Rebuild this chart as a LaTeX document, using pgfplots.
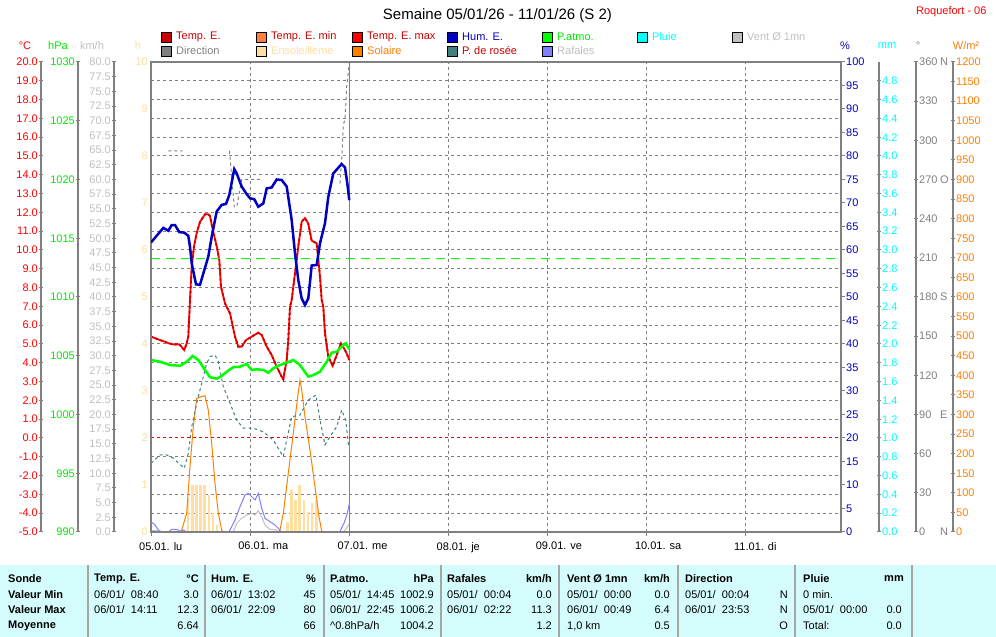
\documentclass[border=0pt]{standalone}
\usepackage{pgfplots}
\pgfplotsset{compat=1.18}
\usepackage{fontspec}
\setmainfont{Liberation Sans}
\definecolor{tempc}{RGB}{200,0,0}
\definecolor{tminc}{RGB}{255,128,64}
\definecolor{tmaxc}{RGB}{255,0,0}
\definecolor{humc}{RGB}{0,0,192}
\definecolor{presc}{RGB}{0,255,0}
\definecolor{presl}{RGB}{0,235,0}
\definecolor{rainc}{RGB}{0,255,255}
\definecolor{windc}{RGB}{192,192,192}
\definecolor{dirc}{RGB}{128,128,128}
\definecolor{sunc}{RGB}{255,222,160}
\definecolor{solc}{RGB}{255,128,0}
\definecolor{dewc}{RGB}{64,128,128}
\definecolor{gustc}{RGB}{128,128,255}
\definecolor{gridc}{RGB}{128,128,128}
\definecolor{tabbg}{RGB}{212,252,252}
\definecolor{sepc}{RGB}{165,165,165}
\newcommand{\fs}{\fontsize{11}{12}\selectfont}
\pgfplotsset{
  plotarea/.style={scale only axis, width=690pt, height=470pt, at={(151pt,105pt)}, anchor=south west, xmin=0, xmax=167},
  hid/.style={plotarea, hide axis, unbounded coords=jump},
  sideax/.style={scale only axis, width=20pt, height=470pt, axis x line=none, xmin=0, xmax=1,
     ytick style={draw=gridc, line width=1pt},
     major tick length=4pt, tick align=outside,
     yticklabel style={font=\fs, inner sep=1pt}},
  noarrow/.style={axis line style={-, draw=gridc, line width=1.5pt},
     every outer y axis line/.append style={-}, every inner y axis line/.append style={-},
     y axis line style={-}},
}
\newcommand{\leg}[5]{%
  \filldraw[fill=#3, draw=black, line width=0.8pt] (#1pt,#2pt-5pt) rectangle ++(10pt,10pt);
  \node[anchor=west, text=#4, font=\fs, inner sep=0pt] at (#1pt+15pt,#2pt) {#5};}
\newcommand{\tl}[3]{\node[anchor=west, font=\fs, inner sep=0pt] at (#1pt,#2pt) {#3};}
\newcommand{\tr}[3]{\node[anchor=east, font=\fs, inner sep=0pt] at (#1pt,#2pt) {#3};}
\newcommand{\bl}[3]{\node[anchor=west, font=\fs\bfseries, inner sep=0pt] at (#1pt,#2pt) {#3};}
\newcommand{\br}[3]{\node[anchor=east, font=\fs\bfseries, inner sep=0pt] at (#1pt,#2pt) {#3};}
\begin{document}
\begin{tikzpicture}
\useasboundingbox (0,0) rectangle (996pt,637pt);
\fill[white] (0,0) rectangle (996pt,637pt);

% ---------- grid axis (deg C units) ----------
\begin{axis}[plotarea, ymin=-5, ymax=20, ytick={-5,-4,...,20}, yticklabels={}, ytick style={draw=none},
  ymajorgrids, xmajorgrids, major grid style={gridc, dash pattern=on 3pt off 3pt, line width=1pt},
  xtick={0,24,48,72,96,120,144},
  xticklabels={05.01.\hspace{4pt}lu, 06.01.\hspace{4pt}ma, 07.01.\hspace{4pt}me, 08.01.\hspace{4pt}je, 09.01.\hspace{4pt}ve, 10.01.\hspace{4pt}sa, 11.01.\hspace{4pt}di},
  xtick pos=left, tick align=outside, major tick length=4pt, xtick style={draw=gridc, line width=1pt},
  xticklabel style={font=\fs, anchor=north west, xshift=-14pt, yshift=-4pt, inner sep=2pt},
  axis line style={draw=none}]
\addplot[gridc, line width=1.5pt] coordinates {(48,-5) (48,20)};
\end{axis}

% ---------- sunshine (h) ----------
\begin{axis}[hid, ymin=0, ymax=10]
\addplot[ycomb, sunc, line width=2.5pt, mark=none] coordinates {
(9,0.73) (10,1.0) (11,1.0) (12,1.0) (13,1.0) (14,0.79) (15,0.40) (16,0.15)
(33,0.22) (34,0.89) (35,0.68) (36,1.0) (37,0.68) (38,0.43) (39,0.61) (40,0.68)};
\end{axis}

% ---------- solar (W/m2) ----------
\begin{axis}[hid, ymin=0, ymax=1200]
\addplot[solc, line width=1pt] coordinates {
(0,0) (7.0,0) (7.43,5) (8.64,48) (9.44,167) (10.24,269) (11.06,341) (12.02,345) (13.07,348)
(13.87,311) (14.69,226) (15.49,124) (16.29,48) (17.11,5) (17.5,0) (31.0,0) (31.22,5) (32.02,48)
(33.23,150) (34.44,252) (35.41,337) (36.06,388) (36.47,363) (37.27,294) (38.48,209) (39.69,116)
(40.66,39) (41.31,3) (41.6,0) (48,0)};
\end{axis}

% ---------- wind / gusts (km/h) ----------
\begin{axis}[hid, ymin=0, ymax=80]
\addplot[windc, line width=1pt] coordinates {
(0,0.3) (1.5,0.2) (2.2,0) (19.9,0) (20.74,1.48) (21.95,2.33) (23.16,2.89) (24.37,3.18) (25.17,2.89)
(25.97,3.63) (26.79,2.61) (27.59,1.19) (28.8,0.46) (30.42,0.34) (31,0) (46.5,0) (47.3,0.6) (48,1.5)};
\addplot[gustc, line width=1pt] coordinates {
(0,1.75) (0.97,1.19) (1.77,0.34) (2.59,0) (4.19,0) (5.01,0.46) (6.22,0.46) (7.02,0.1) (7.82,0.34)
(8.64,0) (18.8,0) (19.12,0.34) (20.33,2.04) (21.54,4.31) (22.75,6.30) (23.55,6.58) (24.37,6.01)
(25.17,5.45) (25.97,6.58) (26.79,4.03) (27.59,2.33) (28.8,1.75) (30.01,1.19) (31.22,0.34) (31.5,0)
(45.74,0) (45.9,0.34) (46.71,1.48) (47.51,3.18) (47.99,4.77)};
\end{axis}

% ---------- direction (deg) ----------
\begin{axis}[hid, ymin=0, ymax=360]
\addplot[dirc, line width=1pt, dash pattern=on 3pt off 3pt] coordinates {
(4.19,292) (7.67,292) (10,nan)
(19.0,292) (20.16,249) (20.74,249) (21.95,270) (26.8,270) (30,nan)
(45.74,267) (46.15,285) (46.55,312) (46.95,316) (47.36,341) (47.99,359)};
\end{axis}

% ---------- temperature / dew point (deg C) ----------
\begin{axis}[hid, ymin=-5, ymax=20]
\addplot[dewc, line width=1pt, dash pattern=on 3pt off 3pt] coordinates {
(0,-1.35) (2.18,-0.90) (3.80,-0.90) (5.40,-1.08) (8.06,-1.61) (9.03,-0.81) (9.85,0.60) (11.06,1.85)
(12.27,2.91) (13.48,3.97) (14.28,4.33) (15.49,4.41) (16.29,4.06) (17.50,2.73) (19.12,1.85) (20.74,0.96)
(22.34,0.52) (24.76,0.52) (27.18,0.33) (29.6,-0.11) (32.02,-0.99) (32.84,-0.11) (34.05,1.13) (36.06,1.22)
(38.07,2.02) (39.93,2.29) (40.9,0.96) (42.11,-0.37) (43.32,0.07) (44.94,0.60) (46.15,1.49) (47.12,0.96)
(47.85,-0.46)};
\addplot[tmaxc, line width=1pt, dash pattern=on 3pt off 3pt] coordinates {(0,0) (167,0)};
\addplot[tmaxc, line width=1.8pt] coordinates {
(0,5.39) (2.18,5.21) (3.39,5.12) (4.19,5.04) (5.40,4.98) (6.85,4.98) (8.06,4.68) (8.64,5.04) (9.03,5.4)
(9.44,7.34) (9.85,9.1) (10.41,10.2) (11.06,10.9) (11.86,11.5) (13.07,11.9) (13.87,11.9) (14.28,11.8)
(14.93,11.1) (15.90,10.2) (16.53,9.47) (16.94,8.05) (17.91,7.16) (19.12,6.63) (20.33,5.39) (21.13,4.86)
(21.95,4.86) (22.99,5.21) (24.37,5.39) (25.97,5.60) (26.79,5.48) (28.0,4.86) (29.21,4.41) (30.42,3.79)
(31.63,3.26) (32.02,3.12) (32.84,4.15) (33.23,5.21) (33.64,6.98) (34.05,7.34) (34.85,8.76) (35.65,10.2)
(36.47,11.5) (37.27,11.7) (38.07,11.4) (38.89,10.5) (39.69,10.4) (40.10,10.36) (40.9,8.58) (41.31,7.34)
(41.70,6.98) (42.11,5.57) (42.91,4.33) (43.97,3.83) (44.94,4.41) (45.98,5.04) (46.71,4.77) (47.36,4.5)
(47.99,4.15)};
\addplot[tempc, line width=1.8pt, dash pattern=on 2pt off 3pt] coordinates {
(0,5.39) (2.18,5.21) (3.39,5.12) (4.19,5.04) (5.40,4.98) (6.85,4.98) (8.06,4.68) (8.64,5.04) (9.03,5.4)
(9.44,7.34) (9.85,9.1) (10.41,10.2) (11.06,10.9) (11.86,11.5) (13.07,11.9) (13.87,11.9) (14.28,11.8)
(14.93,11.1) (15.90,10.2) (16.53,9.47) (16.94,8.05) (17.91,7.16) (19.12,6.63) (20.33,5.39) (21.13,4.86)
(21.95,4.86) (22.99,5.21) (24.37,5.39) (25.97,5.60) (26.79,5.48) (28.0,4.86) (29.21,4.41) (30.42,3.79)
(31.63,3.26) (32.02,3.12) (32.84,4.15) (33.23,5.21) (33.64,6.98) (34.05,7.34) (34.85,8.76) (35.65,10.2)
(36.47,11.5) (37.27,11.7) (38.07,11.4) (38.89,10.5) (39.69,10.4) (40.10,10.36) (40.9,8.58) (41.31,7.34)
(41.70,6.98) (42.11,5.57) (42.91,4.33) (43.97,3.83) (44.94,4.41) (45.98,5.04) (46.71,4.77) (47.36,4.5)
(47.99,4.15)};
\end{axis}

% ---------- pressure (hPa) ----------
\begin{axis}[hid, ymin=990, ymax=1030]
\addplot[presc, line width=1pt, dash pattern=on 9pt off 6pt] coordinates {(0,1013.25) (167,1013.25)};
\addplot[presc, line width=2.5pt] coordinates {
(0,1004.64) (2.18,1004.49) (4.60,1004.21) (7.02,1004.15) (8.64,1004.49) (10.09,1004.98) (11.45,1004.64)
(13.07,1003.79) (14.28,1003.17) (15.90,1003.05) (17.11,1003.28) (18.32,1003.64) (19.92,1004.02)
(21.54,1004.07) (23.16,1004.30) (24.37,1003.79) (25.58,1003.85) (27.18,1003.79) (28.39,1003.56)
(29.6,1003.93) (31.22,1004.21) (32.84,1004.41) (34.44,1004.64) (36.06,1004.21) (38.07,1003.22)
(39.28,1003.36) (40.9,1003.64) (42.52,1004.49) (43.73,1005.26) (44.94,1005.34) (46.15,1005.77)
(47.12,1006.06) (47.99,1005.55)};
\end{axis}

% ---------- humidity (%) + frame ----------
\begin{axis}[plotarea, ymin=0, ymax=100, axis line style={draw=gridc, line width=2.5pt},
  xtick=\empty, ytick={0,5,...,100}, ytick pos=right, tick align=outside, major tick length=4pt,
  ytick style={draw=gridc, line width=1pt},
  yticklabel style={font=\fs, text=humc, inner sep=1pt},
  yticklabel={\pgfmathprintnumber[fixed,precision=0,assume math mode=true]{\tick}}]
\addplot[humc, line width=2.5pt] coordinates {
(0,61.6) (2.98,64.7) (4.19,64.1) (5.01,65.3) (5.81,65.3) (6.85,63.8) (8.06,63.7) (9.03,63.0) (9.44,60.7)
(9.85,57.2) (10.89,52.7) (11.86,52.6) (12.66,55.0) (13.87,58.6) (14.69,62.8) (15.90,68.2) (17.11,69.6)
(18.15,69.8) (18.95,71.7) (20.16,77.2) (20.74,76.3) (21.95,73.5) (22.99,72.1) (23.96,71.0) (25.0,70.8)
(25.97,69.2) (27.18,69.9) (28.0,73.1) (29.21,73.3) (30.42,75.0) (31.63,74.9) (32.84,73.5) (34.05,66.4)
(34.85,59.3) (35.65,53.6) (36.47,49.7) (37.27,48.3) (38.07,49.7) (38.89,56.7) (40.10,56.8) (40.9,61.4)
(42.11,65.7) (42.91,71.3) (44.12,76.3) (45.74,77.9) (46.15,78.3) (46.95,77.6) (47.51,74.2) (47.99,70.6)};
\end{axis}

% ---------- side scales ----------
\begin{axis}[sideax, at={(41pt,105pt)}, anchor=south west, axis y line=left, noarrow, ymin=-5, ymax=20,
  ytick={-5,-4,...,20}, yticklabel style={text=tmaxc},
  yticklabel={\pgfmathprintnumber[fixed,fixed zerofill,precision=1,assume math mode=true]{\tick}}]
\end{axis}
\begin{axis}[sideax, at={(78pt,105pt)}, anchor=south west, axis y line=left, noarrow, ymin=990, ymax=1030,
  ytick={990,995,...,1030}, yticklabel style={text=presl},
  yticklabel={\pgfmathprintnumber[fixed,precision=0,1000 sep={},assume math mode=true]{\tick}}]
\end{axis}
\begin{axis}[sideax, at={(114pt,105pt)}, anchor=south west, axis y line=left, noarrow, ymin=0, ymax=80,
  ytick={0,2.5,...,80}, yticklabel style={text=windc},
  yticklabel={\pgfmathprintnumber[fixed,fixed zerofill,precision=1,assume math mode=true]{\tick}}]
\end{axis}
\begin{axis}[sideax, at={(151pt,105pt)}, anchor=south west, axis y line=left, noarrow, ymin=0, ymax=10,
  axis line style={draw=none}, ytick style={draw=none},
  ytick={0,1,...,10}, yticklabel style={text=sunc},
  yticklabel={\pgfmathprintnumber[fixed,precision=0,assume math mode=true]{\tick}}]
\end{axis}
\begin{axis}[sideax, at={(879pt,105pt)}, anchor=south east, axis y line=right, noarrow, ymin=0, ymax=5,
  ytick={0,0.2,...,4.81}, yticklabel style={text=rainc},
  yticklabel={\pgfmathprintnumber[fixed,fixed zerofill,precision=1,assume math mode=true]{\tick}}]
\end{axis}
\begin{axis}[sideax, at={(916pt,105pt)}, anchor=south east, axis y line=right, noarrow, ymin=0, ymax=360,
  ytick={0,30,...,360}, yticklabel style={text=dirc},
  yticklabels={\makebox[21pt][l]{0}N, 30, 60, \makebox[21pt][l]{90}E, 120, 150, \makebox[21pt][l]{180}S,
     210, 240, \makebox[21pt][l]{270}O, 300, 330, \makebox[21pt][l]{360}N}]
\end{axis}
\begin{axis}[sideax, at={(953pt,105pt)}, anchor=south east, axis y line=right, noarrow, ymin=0, ymax=1200,
  ytick={0,50,...,1200}, yticklabel style={text=solc},
  yticklabel={\pgfmathprintnumber[fixed,precision=0,1000 sep={},assume math mode=true]{\tick}}]
\end{axis}

% ---------- titles ----------
\node[font=\fontsize{15}{16}\selectfont] at (497.5pt,621pt) {Semaine 05/01/26 - 11/01/26 (S 2)};
\node[anchor=east, text=tmaxc, font=\fs] at (990pt,625pt) {Roquefort - 06};
\node[text=tmaxc, font=\fs] at (25pt,591pt) {°C};
\node[text=presl, font=\fs] at (58pt,591pt) {hPa};
\node[text=windc, font=\fs] at (92pt,591pt) {km/h};
\node[text=sunc, font=\fs] at (138pt,591pt) {h};
\node[text=humc, font=\fs] at (845pt,591pt) {\%};
\node[text=rainc, font=\fs] at (887pt,591pt) {mm};
\node[text=dirc, font=\fs] at (918pt,591pt) {°};
\node[text=solc, font=\fs] at (966pt,591pt) {W/m²};

% ---------- legend ----------
\leg{161}{600}{tempc}{tempc}{Temp. E.}
\leg{256}{600}{tminc}{tempc}{Temp. E. min}
\leg{352}{600}{tmaxc}{tempc}{Temp. E. max}
\leg{447}{600}{humc}{humc}{Hum. E.}
\leg{542}{600}{presc}{presl}{P.atmo.}
\leg{637}{600}{rainc}{rainc}{Pluie}
\leg{732}{600}{windc}{windc}{Vent Ø 1mn}
\leg{161}{586}{dirc}{dirc}{Direction}
\leg{256}{586}{sunc}{sunc}{Ensoleilleme}
\leg{352}{586}{solc}{solc}{Solaire}
\leg{447}{586}{dewc}{tempc}{P. de rosée}
\leg{542}{586}{gustc}{windc}{Rafales}

% ---------- table ----------
\fill[tabbg] (0,0) rectangle (996pt,72pt);
\foreach \xx in {88,205,324,441,559,678,795,912} {\draw[sepc, line width=2pt] (\xx pt,0) -- (\xx pt,72pt);}
\bl{8}{58}{Sonde} \bl{8}{42}{Valeur Min} \bl{8}{27}{Valeur Max} \bl{8}{11}{Moyenne}
\bl{94}{58}{Temp. E.} \br{199}{58}{°C}
\tl{94}{42}{06/01/\ \ 08:40} \tr{199}{42}{3.0}
\tl{94}{27}{06/01/\ \ 14:11} \tr{199}{27}{12.3}
\tr{199}{11}{6.64}
\bl{211}{58}{Hum. E.} \br{316}{58}{\%}
\tl{211}{42}{06/01/\ \ 13:02} \tr{316}{42}{45}
\tl{211}{27}{06/01/\ \ 22:09} \tr{316}{27}{80}
\tr{316}{11}{66}
\bl{330}{58}{P.atmo.} \br{434}{58}{hPa}
\tl{330}{42}{05/01/\ \ 14:45} \tr{434}{42}{1002.9}
\tl{330}{27}{06/01/\ \ 22:45} \tr{434}{27}{1006.2}
\tl{330}{11}{\textasciicircum0.8hPa/h} \tr{434}{11}{1004.2}
\bl{447}{58}{Rafales} \br{552}{58}{km/h}
\tl{447}{42}{05/01/\ \ 00:04} \tr{552}{42}{0.0}
\tl{447}{27}{06/01/\ \ 02:22} \tr{552}{27}{11.3}
\tr{552}{11}{1.2}
\bl{567}{58}{Vent Ø 1mn} \br{670}{58}{km/h}
\tl{567}{42}{05/01/\ \ 00:00} \tr{670}{42}{0.0}
\tl{567}{27}{06/01/\ \ 00:49} \tr{670}{27}{6.4}
\tl{567}{11}{1,0 km} \tr{670}{11}{0.5}
\bl{685}{58}{Direction}
\tl{685}{42}{05/01/\ \ 00:04} \tr{788}{42}{N}
\tl{685}{27}{06/01/\ \ 23:53} \tr{788}{27}{N}
\tr{788}{11}{O}
\bl{803}{58}{Pluie} \br{904}{58}{mm}
\tl{803}{42}{0 min.}
\tl{803}{27}{05/01/\ \ 00:00} \tr{902}{27}{0.0}
\tl{803}{11}{Total:} \tr{902}{11}{0.0}
\end{tikzpicture}
\end{document}
